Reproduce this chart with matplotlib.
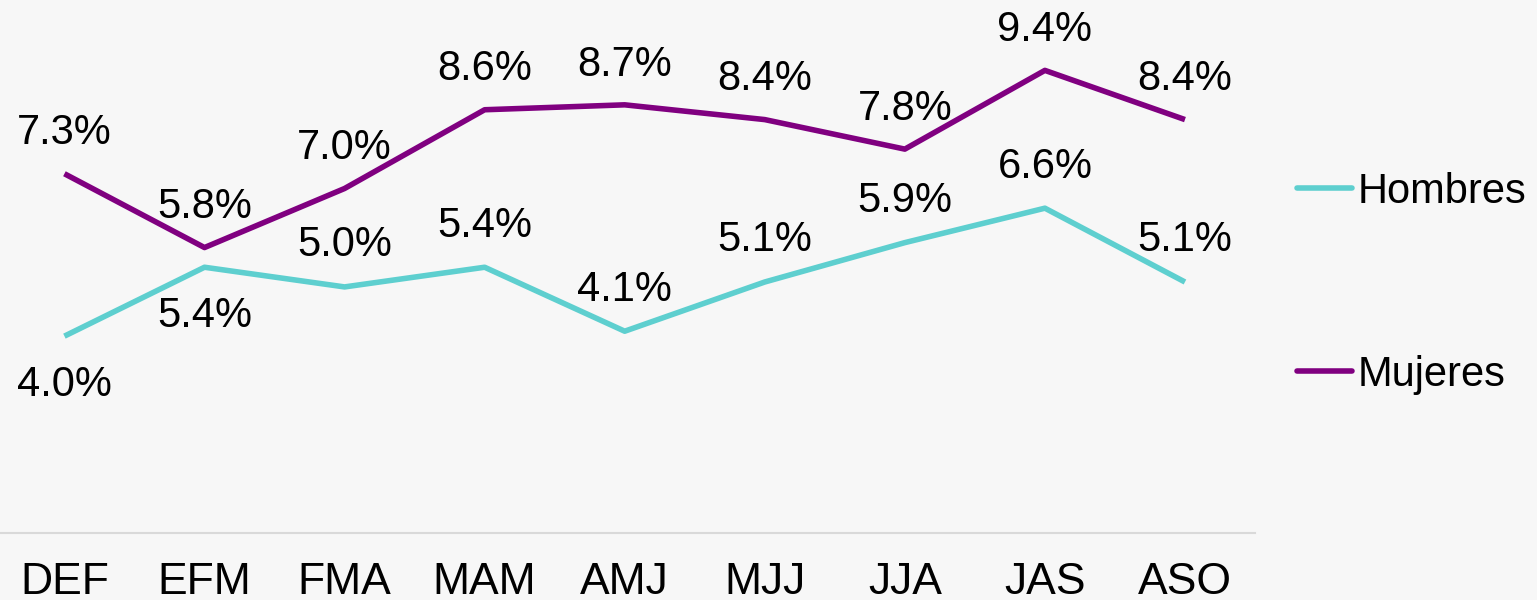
import matplotlib.pyplot as plt

plt.rcParams['font.family'] = ['Liberation Sans', 'DejaVu Sans']

# Data
periodos = ["DEF", "EFM", "FMA", "MAM", "AMJ", "MJJ", "JJA", "JAS", "ASO"]
hombres = [4.0, 5.4, 5.0, 5.4, 4.1, 5.1, 5.9, 6.6, 5.1]
mujeres = [7.3, 5.8, 7.0, 8.6, 8.7, 8.4, 7.8, 9.4, 8.4]
# label position for Hombres: -1 below, +1 above
pos_hombres = [-1, -1, 1, 1, 1, 1, 1, 1, 1]

bg = "#f7f7f7"
col_h = "#5ecfcf"
col_m = "#800080"

fig = plt.figure(figsize=(15.37, 6), dpi=100, facecolor=bg)
ax = fig.add_axes([0, 67 / 600, 1255 / 1537, 533 / 600], facecolor=bg)

x = range(len(periodos))
ax.plot(x, hombres, color=col_h, lw=4, label="Hombres", solid_capstyle="butt")
ax.plot(x, mujeres, color=col_m, lw=4, label="Mujeres", solid_capstyle="butt")

for i, v in enumerate(hombres):
    off = 30 if pos_hombres[i] > 0 else -35
    ax.annotate(f"{v:.1f}%", (i, v), xytext=(0, off), textcoords="offset points",
                ha="center", va="center", fontsize=30, color="black")
for i, v in enumerate(mujeres):
    ax.annotate(f"{v:.1f}%", (i, v), xytext=(0, 29), textcoords="offset points",
                ha="center", va="center", fontsize=30, color="black")

ax.set_xlim(-0.46, 8.5)
ax.set_ylim(0, 10.83)
ax.set_xticks(list(x))
ax.set_xticklabels(periodos, fontsize=32)
ax.tick_params(axis="x", length=0, pad=21)
ax.set_yticks([])
for s in ["top", "right", "left"]:
    ax.spines[s].set_visible(False)
ax.spines["bottom"].set_color("#d9d9d9")
ax.spines["bottom"].set_linewidth(1.5)

leg = fig.legend(loc="upper left", bbox_to_anchor=(1259 / 1537, 1 - 134 / 600),
                 frameon=False, fontsize=30, handlelength=1.34, handletextpad=0.12,
                 labelspacing=3.44)
for h in leg.get_lines():
    h.set_solid_capstyle("round")

fig.savefig("out.png", dpi=100, facecolor=bg)
